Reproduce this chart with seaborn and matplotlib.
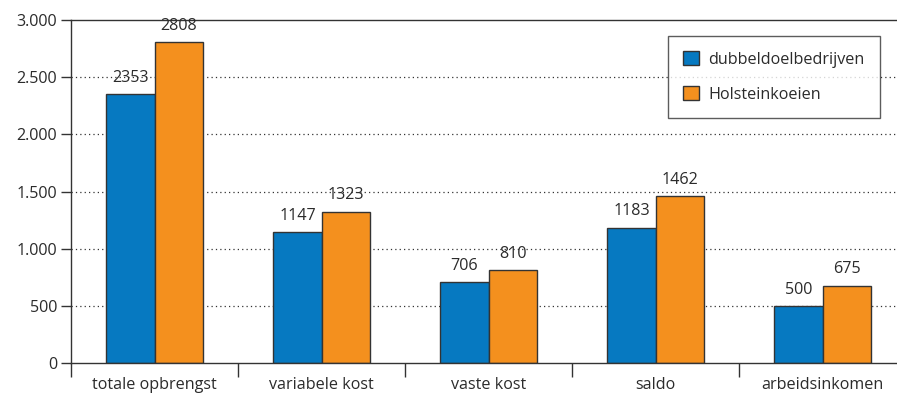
import matplotlib
matplotlib.use("Agg")
import matplotlib.pyplot as plt
from matplotlib.ticker import FuncFormatter, FixedLocator
import seaborn as sns
import pandas as pd

categories = ["totale opbrengst", "variabele kost", "vaste kost", "saldo", "arbeidsinkomen"]
series_names = ["dubbeldoelbedrijven", "Holsteinkoeien"]
dubbeldoel = [2353, 1147, 706, 1183, 500]
holstein = [2808, 1323, 810, 1462, 675]
yticks = [0, 500, 1000, 1500, 2000, 2500, 3000]

colors = ["#0679C1", "#F4901E"]

df = pd.DataFrame({
    "categorie": categories * 2,
    "bedrijf": [series_names[0]] * len(categories) + [series_names[1]] * len(categories),
    "waarde": dubbeldoel + holstein,
})

sns.set_theme(style="white")
plt.rcParams["font.family"] = ["Open Sans", "DejaVu Sans"]
TEXT = "#2b2b2b"
FS = 11.6

fig = plt.figure(figsize=(8.97, 3.98), dpi=100)
ax = fig.add_axes([71 / 897, 35 / 398, 835 / 897, 343 / 398])

sns.barplot(data=df, x="categorie", y="waarde", hue="bedrijf",
            palette=colors, width=0.575, edgecolor="#333333", linewidth=1.0,
            saturation=1, ax=ax, errorbar=None, legend=True)

# value labels above each bar
for cont in ax.containers:
    ax.bar_label(cont, labels=[f"{int(v)}" for v in cont.datavalues],
                 padding=6, fontsize=FS, color=TEXT)

ax.set_ylim(0, 3000)
ax.set_xlim(-0.5, len(categories) - 0.5)
ax.yaxis.set_major_locator(FixedLocator(yticks))
ax.yaxis.set_major_formatter(FuncFormatter(lambda v, p: f"{int(v):,}".replace(",", ".")))

# dotted horizontal gridlines
for v in yticks[1:-1]:
    ax.axhline(v, color="#333333", linestyle=(0, (1, 2.5)), linewidth=0.9, zorder=0)

# category separators as x ticks
ax.set_xticks([i - 0.5 for i in range(len(categories) + 1)])
ax.set_xticklabels([])
ax.set_xticks(range(len(categories)), minor=True)
ax.set_xticklabels(categories, minor=True, fontsize=FS, color=TEXT)
ax.tick_params(axis="x", which="major", length=10, width=1, color="#333333", direction="out", bottom=True)
ax.tick_params(axis="x", which="minor", length=0, pad=10)
ax.tick_params(axis="y", length=7, width=1, color="#333333", direction="out", left=True,
               labelsize=FS, labelcolor=TEXT, pad=3)

ax.set_xlabel("")
ax.set_ylabel("")
for side in ["left", "bottom", "top"]:
    ax.spines[side].set_visible(True)
    ax.spines[side].set_color("#333333")
    ax.spines[side].set_linewidth(1.0)
ax.spines["right"].set_visible(False)

leg = ax.legend(loc="upper left", bbox_to_anchor=((668 - 71) / 835, 1 - 16 / 343),
                frameon=True, fancybox=False, fontsize=FS, handlelength=0.95, handleheight=0.95,
                borderpad=0.95, labelspacing=1.15, handletextpad=0.6, borderaxespad=0)
leg.get_frame().set_edgecolor("#333333")
leg.get_frame().set_linewidth(1.0)
for t in leg.get_texts():
    t.set_color(TEXT)

fig.savefig("out.png", dpi=100)
